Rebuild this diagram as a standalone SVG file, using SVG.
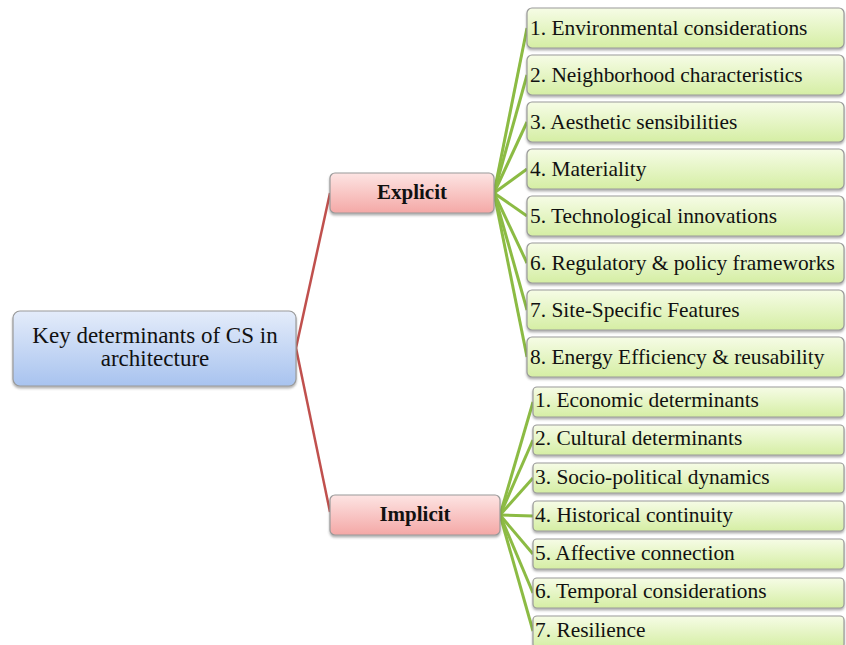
<svg xmlns="http://www.w3.org/2000/svg" width="846" height="645" viewBox="0 0 846 645">
  <style>
    .txt { font-family: "Liberation Serif", "Times New Roman", serif; fill: #111; }
    .root-t { font-size: 23px; text-anchor: middle; }
    .mid-t { font-size: 21px; font-weight: bold; text-anchor: middle; }
    .leaf-t { font-size: 21.4px; }
    .box { stroke: #9a9a9a; stroke-width: 1.2; filter: url(#shadow); }
    .root { fill: url(#gBlue); }
    .mid { fill: url(#gPink); }
    .leaf { fill: url(#gGreen); }
    .red { stroke: #c0504d; stroke-width: 2.5; fill: none; }
    .green { stroke: #8cbb44; stroke-width: 3; fill: none; }
  </style>
  <defs>
    <linearGradient id="gBlue" x1="0" y1="0" x2="0" y2="1">
      <stop offset="0" stop-color="#e4ecfa"/>
      <stop offset="1" stop-color="#a8c3ef"/>
    </linearGradient>
    <linearGradient id="gPink" x1="0" y1="0" x2="0" y2="1">
      <stop offset="0" stop-color="#fde4e3"/>
      <stop offset="1" stop-color="#f4a8a6"/>
    </linearGradient>
    <linearGradient id="gGreen" x1="0" y1="0" x2="0" y2="1">
      <stop offset="0" stop-color="#f6fce6"/>
      <stop offset="1" stop-color="#d5eea4"/>
    </linearGradient>
    <filter id="shadow" x="-10%" y="-20%" width="120%" height="160%">
      <feDropShadow dx="0" dy="2" stdDeviation="1.2" flood-color="#555" flood-opacity="0.45"/>
    </filter>
  </defs>

  <!-- connectors -->
  <g id="connectors">
    <path class="red" d="M296 348 L330 193"/>
    <path class="red" d="M296 348 L330 512"/>
    <g class="green">
      <line x1="494" y1="193" x2="527" y2="28"/>
      <line x1="494" y1="193" x2="527" y2="75"/>
      <line x1="494" y1="193" x2="527" y2="122"/>
      <line x1="494" y1="193" x2="527" y2="169"/>
      <line x1="494" y1="193" x2="527" y2="216"/>
      <line x1="494" y1="193" x2="527" y2="263"/>
      <line x1="494" y1="193" x2="527" y2="310"/>
      <line x1="494" y1="193" x2="527" y2="357"/>
      <line x1="500" y1="515" x2="533" y2="402"/>
      <line x1="500" y1="515" x2="533" y2="440"/>
      <line x1="500" y1="515" x2="533" y2="478"/>
      <line x1="500" y1="515" x2="533" y2="516"/>
      <line x1="500" y1="515" x2="533" y2="554"/>
      <line x1="500" y1="515" x2="533" y2="593"/>
      <line x1="500" y1="515" x2="533" y2="631"/>
    </g>
  </g>

  <!-- root -->
  <g id="root">
    <rect class="box root" x="13" y="311" width="283" height="75" rx="7"/>
    <text class="txt root-t" x="155" y="343">Key determinants of CS in</text>
    <text class="txt root-t" x="155" y="366">architecture</text>
  </g>

  <!-- branches -->
  <g id="explicit">
    <rect class="box mid" x="330" y="173" width="164" height="40" rx="5"/>
    <text class="txt mid-t" x="412" y="199">Explicit</text>
  </g>
  <g id="implicit">
    <rect class="box mid" x="330" y="495" width="170" height="40" rx="5"/>
    <text class="txt mid-t" x="415" y="521">Implicit</text>
  </g>

  <!-- explicit leaves -->
  <g id="e1"><rect class="box leaf" x="527" y="8" width="317" height="40" rx="5"/><text class="txt leaf-t" x="530" y="35">1. Environmental considerations</text></g>
  <g id="e2"><rect class="box leaf" x="527" y="55" width="317" height="40" rx="5"/><text class="txt leaf-t" x="530" y="82">2. Neighborhood characteristics</text></g>
  <g id="e3"><rect class="box leaf" x="527" y="102" width="317" height="40" rx="5"/><text class="txt leaf-t" x="530" y="129">3. Aesthetic sensibilities</text></g>
  <g id="e4"><rect class="box leaf" x="527" y="149" width="317" height="40" rx="5"/><text class="txt leaf-t" x="530" y="176">4. Materiality</text></g>
  <g id="e5"><rect class="box leaf" x="527" y="196" width="317" height="40" rx="5"/><text class="txt leaf-t" x="530" y="223">5. Technological innovations</text></g>
  <g id="e6"><rect class="box leaf" x="527" y="243" width="317" height="40" rx="5"/><text class="txt leaf-t" x="530" y="270">6. Regulatory &amp; policy frameworks</text></g>
  <g id="e7"><rect class="box leaf" x="527" y="290" width="317" height="40" rx="5"/><text class="txt leaf-t" x="530" y="317">7. Site-Specific Features</text></g>
  <g id="e8"><rect class="box leaf" x="527" y="337" width="317" height="40" rx="5"/><text class="txt leaf-t" x="530" y="364">8. Energy Efficiency &amp; reusability</text></g>

  <!-- implicit leaves -->
  <g id="i1"><rect class="box leaf" x="533" y="387" width="311" height="30" rx="4"/><text class="txt leaf-t" x="535" y="407">1. Economic determinants</text></g>
  <g id="i2"><rect class="box leaf" x="533" y="425" width="311" height="30" rx="4"/><text class="txt leaf-t" x="535" y="445">2. Cultural determinants</text></g>
  <g id="i3"><rect class="box leaf" x="533" y="463" width="311" height="30" rx="4"/><text class="txt leaf-t" x="535" y="484">3. Socio-political dynamics</text></g>
  <g id="i4"><rect class="box leaf" x="533" y="501" width="311" height="30" rx="4"/><text class="txt leaf-t" x="535" y="522">4. Historical continuity</text></g>
  <g id="i5"><rect class="box leaf" x="533" y="539" width="311" height="30" rx="4"/><text class="txt leaf-t" x="535" y="560">5. Affective connection</text></g>
  <g id="i6"><rect class="box leaf" x="533" y="578" width="311" height="30" rx="4"/><text class="txt leaf-t" x="535" y="598">6. Temporal considerations</text></g>
  <g id="i7"><rect class="box leaf" x="533" y="616" width="311" height="32" rx="4"/><text class="txt leaf-t" x="535" y="637">7. Resilience</text></g>
</svg>
